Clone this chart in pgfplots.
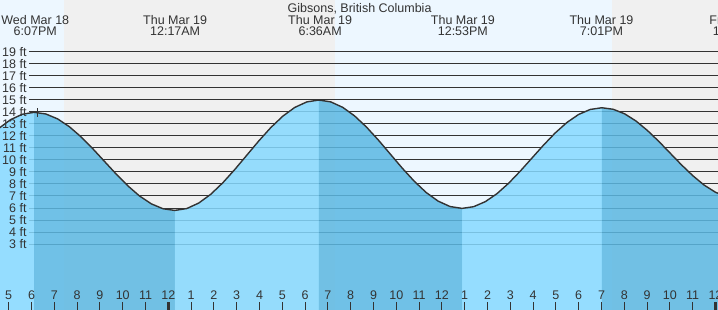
\documentclass[border=0pt]{standalone}
\usepackage{pgfplots}
\pgfplotsset{compat=1.18}
\usepackage{fontspec}
\setmainfont{Liberation Sans}
\definecolor{dayc}{RGB}{237,247,255}
\definecolor{nightc}{RGB}{240,240,240}
\definecolor{wlight}{RGB}{134,217,255}
\definecolor{wdark}{RGB}{91,184,227}
\definecolor{txt}{RGB}{51,51,51}
\newcommand\lf{\fontsize{12.5}{15}\selectfont}
\begin{document}
\begin{tikzpicture}
\tikzset{every node/.append style={font=\lf, text=txt, inner sep=0pt}}
\begin{axis}[name=ax, at={(0,0)}, anchor=south west,
  scale only axis, width=718pt, height=310pt,
  xmin=-7.382, xmax=24.11, ymin=-2.47, ymax=23.28,
  axis line style={draw=none}, axis on top,
  ytick=\empty,
  xtick={-7,...,24},
  xticklabels={5,6,7,8,9,10,11,12,1,2,3,4,5,6,7,8,9,10,11,12,1,2,3,4,5,6,7,8,9,10,11,12},
  xtick pos=bottom, tick align=inside, major tick length=8pt,
  tick style={color=txt, line width=1pt},
  xticklabel style={font=\lf, text=txt, anchor=base, yshift=10pt, inner sep=0pt},
  /pgf/number format/assume math mode=true,
  extra x ticks={0,24}, extra x tick labels={},
  extra x tick style={major tick style={line width=3pt, color=txt}},
]
% day / night background
\addplot[fill=dayc, draw=none] coordinates {(-8,-3) (-4.57,-3) (-4.57,24) (-8,24)} -- cycle;
\addplot[fill=nightc, draw=none] coordinates {(-4.57,-3) (7.30,-3) (7.30,24) (-4.57,24)} -- cycle;
\addplot[fill=dayc, draw=none] coordinates {(7.30,-3) (19.46,-3) (19.46,24) (7.30,24)} -- cycle;
\addplot[fill=nightc, draw=none] coordinates {(19.46,-3) (26,-3) (26,24) (19.46,24)} -- cycle;
% grid lines
\pgfplotsinvokeforeach{3,...,19}{
  \addplot[txt, line width=1pt] coordinates {(-6.11,#1) (25,#1)};
}
% water bands
\addplot[fill=wlight, fill opacity=0.85, draw=none] coordinates {
(-7.955,11.66) (-7.437,12.61) (-6.919,13.34) (-6.401,13.79) (-5.883,13.95)
(-5.883,-3) (-7.955,-3)} -- cycle;
\addplot[fill=wdark, fill opacity=0.85, draw=none] coordinates {
(-5.883,13.95) (-5.369,13.811) (-4.855,13.404) (-4.341,12.757) (-3.828,11.913)
(-3.314,10.930) (-2.800,9.875) (-2.286,8.820) (-1.772,7.838) (-1.258,6.993)
(-0.745,6.346) (-0.231,5.939) (0.283,5.800)
(0.283,-3) (-5.883,-3)} -- cycle;
\addplot[fill=wlight, fill opacity=0.85, draw=none] coordinates {
(0.283,5.800) (0.809,5.956) (1.336,6.414) (1.862,7.142) (2.389,8.093)
(2.915,9.198) (3.442,10.385) (3.968,11.572) (4.494,12.678) (5.021,13.628)
(5.547,14.356) (6.074,14.814) (6.600,14.970)
(6.600,-3) (0.283,-3)} -- cycle;
\addplot[fill=wdark, fill opacity=0.85, draw=none] coordinates {
(6.600,14.970) (7.124,14.817) (7.647,14.367) (8.171,13.652) (8.694,12.720)
(9.218,11.635) (9.742,10.470) (10.265,9.305) (10.789,8.220) (11.312,7.288)
(11.836,6.573) (12.359,6.123) (12.883,5.970)
(12.883,-3) (6.600,-3)} -- cycle;
\addplot[fill=wlight, fill opacity=0.85, draw=none] coordinates {
(12.883,5.970) (13.394,6.112) (13.905,6.530) (14.417,7.194) (14.928,8.060)
(15.439,9.068) (15.950,10.150) (16.461,11.232) (16.972,12.240) (17.484,13.106)
(17.995,13.770) (18.506,14.188) (19.017,14.330)
(19.017,-3) (12.883,-3)} -- cycle;
\addplot[fill=wdark, fill opacity=0.85, draw=none] coordinates {
(19.017,14.330) (19.516,14.202) (20.014,13.825) (20.513,13.228) (21.011,12.448)
(21.510,11.539) (22.009,10.565) (22.507,9.591) (23.006,8.683) (23.504,7.902)
(24.003,7.305) (24.501,6.928) (25.000,6.800)
(25.000,-3) (19.017,-3)} -- cycle;
% tide curve
\addplot[color=txt, line width=1.4pt, line join=round] coordinates {
(-7.955,11.66) (-7.437,12.61) (-6.919,13.34) (-6.401,13.79) (-5.883,13.95)
(-5.369,13.811) (-4.855,13.404) (-4.341,12.757) (-3.828,11.913)
(-3.314,10.930) (-2.800,9.875) (-2.286,8.820) (-1.772,7.838) (-1.258,6.993)
(-0.745,6.346) (-0.231,5.939) (0.283,5.800)
(0.809,5.956) (1.336,6.414) (1.862,7.142) (2.389,8.093)
(2.915,9.198) (3.442,10.385) (3.968,11.572) (4.494,12.678) (5.021,13.628)
(5.547,14.356) (6.074,14.814) (6.600,14.970)
(7.124,14.817) (7.647,14.367) (8.171,13.652) (8.694,12.720)
(9.218,11.635) (9.742,10.470) (10.265,9.305) (10.789,8.220) (11.312,7.288)
(11.836,6.573) (12.359,6.123) (12.883,5.970)
(13.394,6.112) (13.905,6.530) (14.417,7.194) (14.928,8.060)
(15.439,9.068) (15.950,10.150) (16.461,11.232) (16.972,12.240) (17.484,13.106)
(17.995,13.770) (18.506,14.188) (19.017,14.330)
(19.516,14.202) (20.014,13.825) (20.513,13.228) (21.011,12.448)
(21.510,11.539) (22.009,10.565) (22.507,9.591) (23.006,8.683) (23.504,7.902)
(24.003,7.305) (24.501,6.928) (25.000,6.800)};
% small marker at first high
\addplot[color=txt, line width=1pt] coordinates {(-5.746,13.6) (-5.746,14.3)};
% foot labels
\pgfplotsinvokeforeach{3,...,19}{
  \node[anchor=base east, yshift=-4.5pt] at (axis cs:-6.21,#1) {#1 ft};
}
% header
\node[anchor=base] at (axis cs:8.39,22.28) {Gibsons, British Columbia};
\node[anchor=base] at (axis cs:-5.835,21.26) {Wed Mar 18};
\node[anchor=base] at (axis cs:-5.835,20.29) {6:07PM};
\node[anchor=base] at (axis cs:0.30,21.26) {Thu Mar 19};
\node[anchor=base] at (axis cs:0.30,20.29) {12:17AM};
\node[anchor=base] at (axis cs:6.66,21.26) {Thu Mar 19};
\node[anchor=base] at (axis cs:6.66,20.29) {6:36AM};
\node[anchor=base] at (axis cs:12.92,21.26) {Thu Mar 19};
\node[anchor=base] at (axis cs:12.92,20.29) {12:53PM};
\node[anchor=base] at (axis cs:19.0,21.26) {Thu Mar 19};
\node[anchor=base] at (axis cs:19.0,20.29) {7:01PM};
\node[anchor=base] at (axis cs:24.98,21.26) {Fri Mar 20};
\node[anchor=base] at (axis cs:24.98,20.29) {12:59AM};
\end{axis}
\pgfresetboundingbox
\useasboundingbox (ax.south west) rectangle (ax.north east);
\end{tikzpicture}
\end{document}
